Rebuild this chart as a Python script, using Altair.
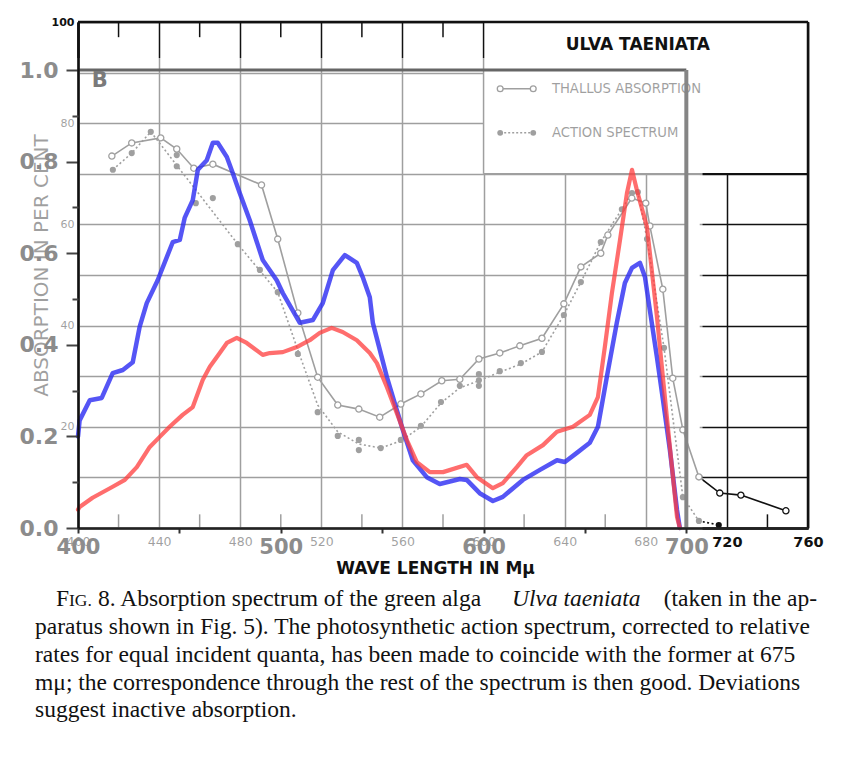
import altair as alt
import pandas as pd

# ---------------- data ----------------
# coloured overlay curves, absorption 0..1
blue_nm = [400.0, 400.8, 405.8, 411.7, 417.1, 422.1, 427.0, 430.4, 433.9, 439.3, 446.7, 450.2,
           452.6, 456.6, 459.1, 463.5, 466.5, 468.9, 473.4, 476.3, 479.8, 484.7, 491.1, 498.0,
           501.0, 509.4, 515.8, 520.7, 525.7, 531.6, 537.5, 540.4, 543.9, 545.4, 552.3, 557.2,
           560.2, 565.1, 572.0, 578.4, 588.3, 591.7, 598.1, 604.6, 609.5, 619.4, 627.8, 636.2,
           640.1, 646.0, 652.4, 656.4, 660.8, 665.7, 669.7, 673.2, 677.1, 679.6, 682.0, 685.5,
           688.5, 691.9, 695.4, 696.8]
blue_abs = [0.200, 0.235, 0.279, 0.284, 0.338, 0.345, 0.362, 0.439, 0.491, 0.541, 0.624, 0.629,
            0.677, 0.716, 0.782, 0.803, 0.841, 0.841, 0.810, 0.775, 0.731, 0.672, 0.585, 0.541,
            0.513, 0.448, 0.454, 0.491, 0.563, 0.596, 0.579, 0.548, 0.504, 0.448, 0.330, 0.258,
            0.214, 0.148, 0.111, 0.096, 0.107, 0.105, 0.076, 0.059, 0.068, 0.105, 0.127, 0.148,
            0.144, 0.164, 0.186, 0.221, 0.330, 0.448, 0.535, 0.568, 0.579, 0.548, 0.476, 0.373,
            0.279, 0.170, 0.039, 0.000]
red_nm = [400.0, 400.8, 407.2, 417.1, 423.1, 429.0, 435.4, 440.3, 445.2, 451.6, 456.6, 461.5,
          465.0, 469.9, 473.4, 478.3, 483.2, 491.1, 494.6, 501.0, 507.9, 514.3, 519.2, 525.1,
          530.5, 537.5, 543.9, 547.4, 552.3, 557.2, 562.2, 567.1, 573.5, 580.0, 591.7, 596.7,
          604.6, 609.5, 616.4, 621.3, 629.3, 636.2, 644.1, 652.4, 656.4, 659.8, 663.3, 667.3,
          670.7, 673.2, 675.6, 680.6, 685.5, 690.4, 695.4, 696.8]
red_abs = [0.040, 0.046, 0.066, 0.090, 0.105, 0.133, 0.177, 0.199, 0.221, 0.247, 0.264, 0.323,
           0.352, 0.382, 0.404, 0.415, 0.404, 0.378, 0.382, 0.384, 0.395, 0.410, 0.426, 0.437,
           0.428, 0.410, 0.382, 0.360, 0.308, 0.251, 0.192, 0.144, 0.122, 0.122, 0.138, 0.111,
           0.087, 0.098, 0.133, 0.159, 0.181, 0.210, 0.221, 0.247, 0.286, 0.395, 0.513, 0.629,
           0.731, 0.782, 0.738, 0.657, 0.461, 0.242, 0.024, 0.000]

# original scanned figure, absorption in per cent
thallus_nm = [416.7, 426.5, 440.8, 448.7, 457.1, 466.5, 490.5, 498.5, 508.4, 518.2, 528.1, 538.5,
              548.8, 559.2, 569.1, 579.4, 588.3, 597.7, 608.0, 617.9, 628.8, 639.6, 648.0, 657.8,
              661.3, 673.1, 680.0, 682.0, 688.4, 693.3, 698.3, 706.2, 716.5, 726.9, 749.1]
thallus_pct = [73.5, 76.1, 77.1, 74.9, 71.1, 71.9, 67.8, 57.1, 42.5, 29.8, 24.3, 23.5,
               21.9, 24.5, 26.5, 29.1, 29.4, 33.4, 34.6, 36.0, 37.5, 44.3, 51.6, 54.3,
               57.9, 65.2, 64.2, 59.7, 47.2, 29.6, 19.4, 10.1, 6.9, 6.5, 3.4]
action_nm = [417.2, 426.5, 435.9, 448.7, 448.7, 458.1, 466.5, 478.8, 489.7, 498.5, 508.4, 518.2,
             528.1, 538.5, 538.5, 549.3, 559.2, 569.1, 579.0, 588.3, 597.7, 597.7, 597.7, 608.0,
             618.4, 628.8, 639.6, 648.0, 657.8, 668.2, 673.2, 676.1, 680.6, 689.0, 698.3, 706.2,
             716.0]
action_pct = [70.8, 74.1, 78.3, 73.7, 71.5, 64.2, 65.2, 56.1, 51.0, 46.6, 34.4, 22.9,
              18.2, 17.4, 15.4, 15.8, 17.4, 20.2, 24.9, 28.1, 30.4, 29.2, 28.1, 31.0,
              32.6, 34.8, 42.1, 48.6, 56.5, 63.0, 66.2, 66.4, 57.1, 35.6, 6.1, 1.4,
              0.6]
action_line_nm = [417.2, 426.5, 435.9, 478.8, 498.5, 508.4, 518.2, 528.1, 538.5, 549.3, 559.2,
                  569.1, 579.0, 588.3, 597.7, 608.0, 618.4, 628.8, 639.6, 648.0, 657.8, 668.2,
                  673.2, 676.1, 680.6, 689.0, 698.3, 706.2, 716.0]
action_line_pct = [70.8, 74.1, 78.3, 56.1, 46.6, 35.2, 24.3, 19.0, 16.6, 15.8, 17.2,
                   20.0, 24.7, 27.7, 29.1, 30.8, 32.4, 34.8, 42.1, 48.6, 56.5, 63.0,
                   66.2, 66.4, 57.1, 35.6, 6.1, 1.4, 0.6]

old_x_ticks = [400, 440, 480, 520, 560, 600, 640, 680, 720, 760]
old_minor_bottom = [420, 460, 500, 540, 580, 620, 660, 700, 740]
old_minor_top = [420, 460, 500, 540, 580]
old_y_ticks = [0, 10, 20, 30, 40, 50, 60, 70, 80, 90, 100]
new_x_ticks = [400, 450, 500, 550, 600, 650, 700]
new_y_major = [0.0, 0.2, 0.4, 0.6, 0.8, 1.0]
new_y_minor = [0.1, 0.3, 0.5, 0.7, 0.9]

legend_labels = ["THALLUS ABSORPTION", "ACTION SPECTRUM"]
chart_title = "ULVA TAENIATA"
panel_label = "B"
caption_f = "F"
caption_ig = "IG."
caption_1a = "8.  Absorption spectrum of the green alga"
caption_1b = "Ulva taeniata"
caption_1c = "(taken in the ap-"
caption_rest = [
    "paratus shown in Fig. 5). The photosynthetic action spectrum, corrected to relative",
    "rates for equal incident quanta, has been made to coincide with the former at 675",
    "mμ; the correspondence through the rest of the spectrum is then good. Deviations",
    "suggest inactive absorption.",
]

# ---------------- layout ----------------
W, H = 730, 506
NEW_TOP = 506 / 458.0
INK = "#111111"
SANS = "DejaVu Sans"
SERIF = "Liberation Serif"
CAP = 23.5


def sx():
    return alt.Scale(domain=[400, 760], nice=False, zero=False)


def syo():
    return alt.Scale(domain=[0, 100], nice=False, zero=False)


def syn():
    return alt.Scale(domain=[0, NEW_TOP], nice=False, zero=False)


def ex(f="x", axis=None):
    return alt.X(f + ":Q", scale=sx(), axis=axis)


def eyo(f="y", axis=None):
    return alt.Y(f + ":Q", scale=syo(), axis=axis)


def eyn(f="y", axis=None):
    return alt.Y(f + ":Q", scale=syn(), axis=axis)


layers = []

# --- old figure axes and grid (drawn behind marks) ---
old_x_axis = alt.Axis(
    orient="bottom", values=old_x_ticks, format="d", grid=True, gridColor=INK, gridWidth=1.5,
    domain=True, domainColor=INK, domainWidth=2.5, ticks=False, labelPadding=7,
    labelFont=SANS,
    labelFontSize={"condition": {"test": "datum.value > 700", "value": 14.5}, "value": 12.5},
    labelFontWeight={"condition": {"test": "datum.value > 700", "value": "bold"}, "value": "normal"},
    labelColor=INK, labelOverlap=False, labelFlush=False,
    title="WAVE LENGTH IN Mμ", titleFont=SANS, titleFontSize=17, titleFontWeight="bold",
    titleColor=INK, titleX=357, titleY=40, titleAlign="center", titleBaseline="middle", zindex=0)
layers.append(alt.Chart(pd.DataFrame({"x": old_x_ticks})).mark_point(opacity=0).encode(
    x=ex("x", old_x_axis), y=alt.value(0)))

old_y_axis = alt.Axis(
    orient="left", values=old_y_ticks, grid=True, gridColor=INK, gridWidth=1.5,
    domain=True, domainColor=INK, domainWidth=2.5, ticks=False,
    labelExpr="datum.value % 20 == 0 && datum.value > 0 ? datum.label : ''",
    labelFont=SANS, labelFontSize=11,
    labelFontWeight={"condition": {"test": "datum.value == 100", "value": "bold"}, "value": "normal"},
    labelColor=INK, labelPadding=4, labelOverlap=False, labelFlush=False,
    title="ABSORPTION IN PER CENT", titleFont=SANS, titleFontSize=20, titleFontWeight="normal",
    titleColor=INK, titleX=-37, titleY=243, titleAngle=270, titleAlign="center",
    titleBaseline="middle", zindex=0)
layers.append(alt.Chart(pd.DataFrame({"y": old_y_ticks})).mark_point(opacity=0).encode(
    y=eyo("y", old_y_axis), x=alt.value(0)))

# white legend box of the old figure and the white strip right of the new frame
layers.append(alt.Chart(pd.DataFrame({"x": [600, 700.7], "x2": [760, 706.6], "y": [70, 0.4], "y2": [100, 69.6]}))
              .mark_rect(color="white", opacity=1).encode(
    x=ex("x"), x2="x2:Q", y=eyo("y"), y2="y2:Q"))

# old frame segments and ticks
seg = {"x": [], "x2": [], "y": [], "y2": [], "w": []}


def add_seg(x, x2, y, y2, w):
    seg["x"].append(x); seg["x2"].append(x2); seg["y"].append(y); seg["y2"].append(y2); seg["w"].append(w)


add_seg(400, 760, 100, 100, 2.5)
add_seg(760, 760, 0, 100, 2.5)
add_seg(600, 600, 70, 100, 1.5)
add_seg(600, 760, 70, 70, 1.5)
for t in old_minor_bottom:
    add_seg(t, t, 0, 2.7, 1.5)
for t in old_minor_top:
    add_seg(t, t, 97, 100, 1.5)
layers.append(alt.Chart(pd.DataFrame(seg)).mark_rule(color=INK).encode(
    x=ex("x"), x2="x2:Q", y=eyo("y"), y2="y2:Q",
    strokeWidth=alt.StrokeWidth("w:Q", scale=None)))

# old curves
thal = pd.DataFrame({"x": thallus_nm, "y": thallus_pct})
act = pd.DataFrame({"x": action_nm, "y": action_pct})
actl = pd.DataFrame({"x": action_line_nm, "y": action_line_pct})
layers.append(alt.Chart(actl).mark_line(color=INK, strokeWidth=1.6, strokeDash=[2, 2.5]).encode(
    x=ex("x"), y=eyo("y")))
layers.append(alt.Chart(thal).mark_line(color=INK, strokeWidth=1.6).encode(x=ex("x"), y=eyo("y")))
layers.append(alt.Chart(act).mark_circle(color=INK, size=38, opacity=1).encode(x=ex("x"), y=eyo("y")))
layers.append(alt.Chart(thal).mark_point(shape="circle", filled=True, fill="white", stroke=INK,
                                         strokeWidth=1.3, size=38, opacity=1).encode(
    x=ex("x"), y=eyo("y")))

# old legend
leg = pd.DataFrame({"x": [608.2, 624.5, 608.2, 624.5], "y": [86.8, 86.8, 78.1, 78.1],
                    "s": ["t", "t", "a", "a"]})
layers.append(alt.Chart(leg[leg.s == "t"]).mark_line(color=INK, strokeWidth=1.4).encode(x=ex("x"), y=eyo("y")))
layers.append(alt.Chart(leg[leg.s == "a"]).mark_line(color=INK, strokeWidth=1.4, strokeDash=[2, 2]).encode(
    x=ex("x"), y=eyo("y")))
layers.append(alt.Chart(leg[leg.s == "t"]).mark_point(shape="circle", filled=True, fill="white", stroke=INK,
                                                      strokeWidth=1.3, size=34, opacity=1).encode(
    x=ex("x"), y=eyo("y")))
layers.append(alt.Chart(leg[leg.s == "a"]).mark_circle(color=INK, size=34, opacity=1).encode(
    x=ex("x"), y=eyo("y")))
layers.append(alt.Chart(pd.DataFrame({"x": [633.7, 633.7], "y": [86.8, 78.1], "t": legend_labels}))
              .mark_text(align="left", baseline="middle", font=SANS, fontSize=13.2, color=INK).encode(
    x=ex("x"), y=eyo("y"), text="t:N"))
layers.append(alt.Chart(pd.DataFrame({"x": [676.1], "y": [95.4], "t": [chart_title]}))
              .mark_text(align="center", baseline="middle", font=SANS, fontSize=17, fontWeight="bold",
                         color=INK).encode(x=ex("x"), y=eyo("y"), text="t:N"))

# translucent white sheet of the overlaid new figure
layers.append(alt.Chart(pd.DataFrame({"x": [362], "x2": [708], "y": [-5.7], "y2": [92.9]}))
              .mark_rect(color="white", opacity=0.6).encode(
    x=ex("x"), x2="x2:Q", y=eyo("y"), y2="y2:Q"))

# --- new figure ---
nf = pd.DataFrame({"x": [400, 700], "x2": [700, 700], "y": [1.0, 0.0], "y2": [1.0, 1.0],
                   "w": [3.0, 4.0], "c": ["#666666", "#858585"]})
layers.append(alt.Chart(nf).mark_rule().encode(
    x=ex("x"), x2="x2:Q", y=eyn("y"), y2="y2:Q",
    strokeWidth=alt.StrokeWidth("w:Q", scale=None), color=alt.Color("c:N", scale=None)))
layers.append(alt.Chart(pd.DataFrame({"x": [410.7], "y": [0.975], "t": [panel_label]}))
              .mark_text(align="center", baseline="middle", font=SANS, fontSize=21, fontWeight="bold",
                         color="#7a7a7a").encode(x=ex("x"), y=eyn("y"), text="t:N"))

layers.append(alt.Chart(pd.DataFrame({"x": blue_nm, "y": blue_abs})).mark_line(
    color="#2a2af2", strokeWidth=4.5, opacity=0.8, strokeJoin="round", strokeCap="round").encode(
    x=ex("x"), y=eyn("y")))
layers.append(alt.Chart(pd.DataFrame({"x": red_nm, "y": red_abs})).mark_line(
    color="#ff3c3c", strokeWidth=4.2, opacity=0.75, strokeJoin="round", strokeCap="round").encode(
    x=ex("x"), y=eyn("y")))

# new figure axes (drawn on top)
new_y_axis = alt.Axis(
    orient="left", values=new_y_major, format=".1f", grid=False, domain=True, domainColor=INK,
    domainWidth=2.5, ticks=True, tickSize=12, tickColor="#444444", tickWidth=2,
    labelFont=SANS, labelFontSize=22, labelFontWeight="bold", labelColor="#8c8c8c",
    labelPadding=8, labelOverlap=False, labelFlush=False, title=None, zindex=1)
layers.append(alt.Chart(pd.DataFrame({"y": new_y_major})).mark_point(opacity=0).encode(
    y=eyn("y", new_y_axis), x=alt.value(0)))
new_y_minor_axis = alt.Axis(
    orient="left", values=new_y_minor, grid=False, domain=False, ticks=True, tickSize=6,
    tickColor="#444444", tickWidth=2, labels=False, title=None, zindex=1)
layers.append(alt.Chart(pd.DataFrame({"y": new_y_minor})).mark_point(opacity=0).encode(
    y=eyn("y", new_y_minor_axis), x=alt.value(0)))
new_x_axis = alt.Axis(
    orient="bottom", values=new_x_ticks, format="d", grid=False, domain=True, domainColor="#222222",
    domainWidth=2.5, ticks=True, tickSize=5, tickColor="#333333", tickWidth=2,
    labelExpr="datum.value % 100 == 0 ? datum.label : ''",
    labelFont=SANS, labelFontSize=21, labelFontWeight="bold", labelColor="#8c8c8c",
    labelPadding=3, labelOverlap=False, labelFlush=False, title=None, zindex=1)
layers.append(alt.Chart(pd.DataFrame({"x": new_x_ticks})).mark_point(opacity=0).encode(
    x=ex("x", new_x_axis), y=alt.value(H)))

# --- caption below the figure ---
def cap_layer(px, py, texts, align="left", style="normal", size=CAP):
    df = pd.DataFrame({"px": px, "py": py, "t": texts})
    return alt.Chart(df).mark_text(align=align, baseline="alphabetic", font=SERIF, fontSize=size,
                                   fontStyle=style, color=INK).encode(
        x=alt.X("px:Q", scale=None, axis=None), y=alt.Y("py:Q", scale=None, axis=None), text="t:N")


layers.append(cap_layer([-22], [584], [caption_f]))
layers.append(cap_layer([-9], [584], [caption_ig], size=17.5))
layers.append(cap_layer([20, -43, -43, -43, -43], [584, 612, 640, 668, 695],
                        [caption_1a] + caption_rest))
layers.append(cap_layer([434], [584], [caption_1b], style="italic"))
layers.append(cap_layer([739], [584], [caption_1c], align="right"))

chart = alt.layer(*layers).resolve_scale(x="independent", y="independent").properties(
    width=W, height=H, autosize=alt.AutoSizeParams(type="none"),
    padding={"left": 70, "top": 14, "right": 40, "bottom": 223},
    background="white",
).configure_view(stroke=None)

chart.save("out.html", embed_options={"renderer": "svg", "actions": False})
